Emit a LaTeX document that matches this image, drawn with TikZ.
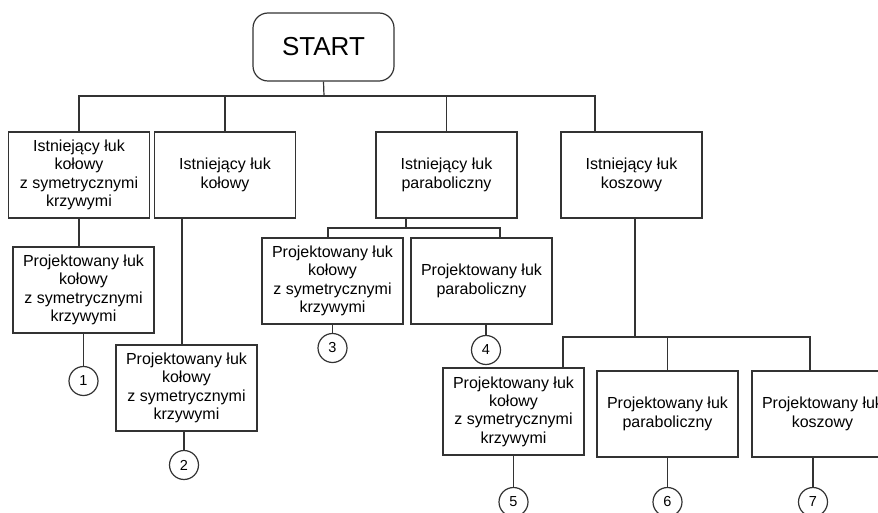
\documentclass[tikz,border=0pt]{standalone}
\usepackage{fontspec}
\setmainfont{Liberation Sans}
\usetikzlibrary{positioning}

\tikzset{
    box/.style={draw=black!80, line width=1.2pt, minimum width=141pt, minimum height=86pt,
        align=center, inner sep=0pt, font=\fontsize{16}{18.3}\selectfont},
    startbox/.style={draw=black!80, line width=1.2pt, rounded corners=15pt, minimum width=141pt,
        minimum height=68pt, inner sep=0pt, font=\fontsize{26}{28}\selectfont},
    num/.style={circle, draw=black!80, line width=1.2pt, minimum size=29pt, inner sep=0pt,
        font=\fontsize{14.5}{16}\selectfont},
    link/.style={draw=black!80, line width=1.2pt}
}

\begin{document}
\begin{tikzpicture}[x=1pt, y=-1pt]
    \clip (0,0) rectangle (878,513);

    % Start
    \node[startbox] (start) at (323.5,47) {START};

    % Existing arcs
    \node[box] (e1) at (79,175) {Istniejący łuk\\kołowy\\z symetrycznymi\\krzywymi};
    \node[box] (e2) at (225,175) {Istniejący łuk\\kołowy};
    \node[box] (e3) at (446.5,175) {Istniejący łuk\\paraboliczny};
    \node[box] (e4) at (631.5,175) {Istniejący łuk\\koszowy};

    % Designed arcs
    \node[box] (p1) at (83.5,290) {Projektowany łuk\\kołowy\\z symetrycznymi\\krzywymi};
    \node[box] (p2) at (186.5,388) {Projektowany łuk\\kołowy\\z symetrycznymi\\krzywymi};
    \node[box] (p3) at (332.5,281) {Projektowany łuk\\kołowy\\z symetrycznymi\\krzywymi};
    \node[box] (p4) at (481.5,281) {Projektowany łuk\\paraboliczny};
    \node[box, minimum height=87pt] (p5) at (513.5,411.5) {Projektowany łuk\\kołowy\\z symetrycznymi\\krzywymi};
    \node[box] (p6) at (667.5,414) {Projektowany łuk\\paraboliczny};
    \node[box] (p7) at (822.5,414) {Projektowany łuk\\koszowy};

    % Variants
    \node[num] (c1) at (83.5,381) {1};
    \node[num] (c2) at (184,465) {2};
    \node[num] (c3) at (332.5,348) {3};
    \node[num] (c4) at (486,350) {4};
    \node[num] (c5) at (513.5,502) {5};
    \node[num] (c6) at (667.5,502) {6};
    \node[num] (c7) at (813,502) {7};

    % Bus points
    \coordinate (bus1) at (324,96);
    \coordinate (bus3) at (406,228);
    \coordinate (bus4) at (635,337);

    % Links
    \draw[link] (start.south) -- (bus1);
    \draw[link] (e1.north) |- (bus1) -| (e2.north);
    \draw[link] (bus1) -| (e3.north);
    \draw[link] (bus1) -| ([xshift=-36.5]e4.north);

    \draw[link] (e1.south) -- (e1.south |- p1.north);
    \draw[link] (p1.south) -- (c1);

    \draw[link] ([xshift=-43]e2.south) -- ([xshift=-43]e2.south |- p2.north);
    \draw[link] (c2 |- p2.south) -- (c2);

    \draw[link] (e3.south -| bus3) -- (bus3);
    \draw[link] ([xshift=-4.5]p3.north) |- (bus3) -| ([xshift=18.5]p4.north);
    \draw[link] (p3.south) -- (c3);
    \draw[link] (c4 |- p4.south) -- (c4);

    \draw[link] (e4.south -| bus4) -- (bus4);
    \draw[link] ([xshift=49.5]p5.north) |- (bus4) -| (p6.north);
    \draw[link] (bus4) -| ([xshift=-12.5]p7.north);
    \draw[link] (p5.south) -- (c5);
    \draw[link] (p6.south) -- (c6);
    \draw[link] (c7 |- p7.south) -- (c7);
\end{tikzpicture}
\end{document}
